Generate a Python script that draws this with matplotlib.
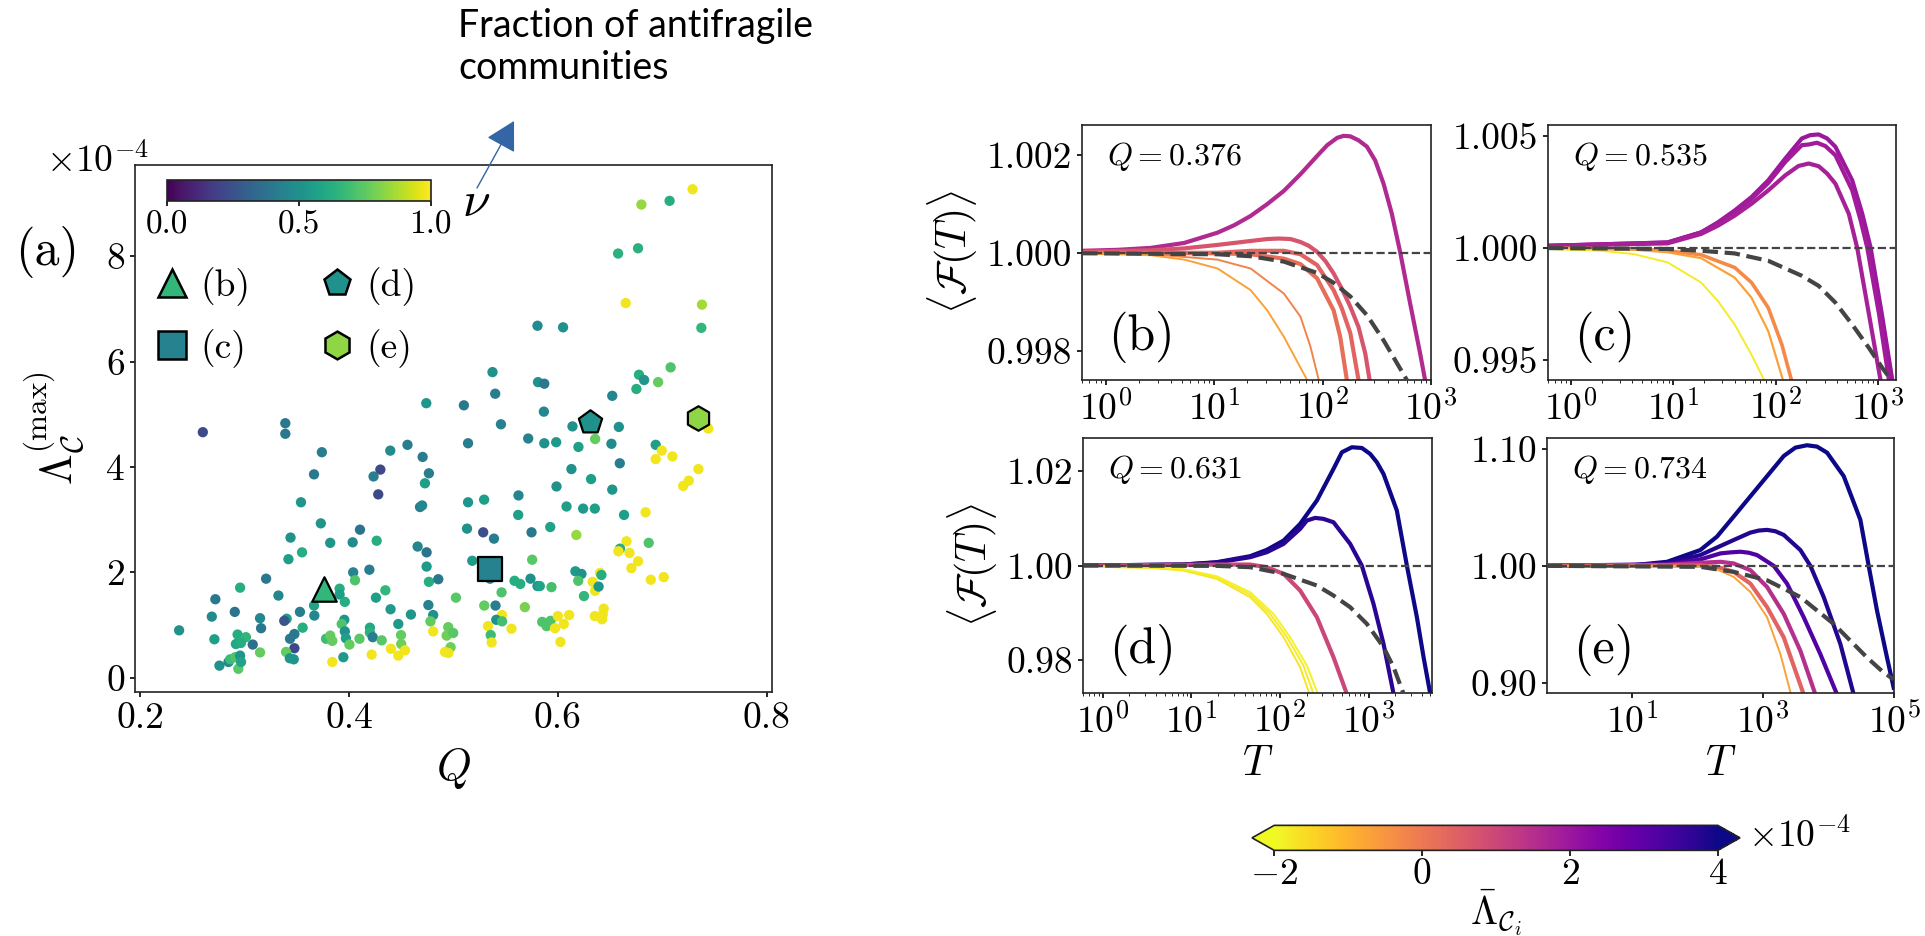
import numpy as np
import matplotlib
matplotlib.use('Agg')
import matplotlib.pyplot as plt
from matplotlib.colors import Normalize
from matplotlib.lines import Line2D
from matplotlib.ticker import FormatStrFormatter, FixedLocator, NullLocator, LogLocator

plt.rcParams['font.family'] = 'serif'
plt.rcParams['font.serif'] = ['cmr10']
plt.rcParams['mathtext.fontset'] = 'cm'
plt.rcParams['axes.formatter.use_mathtext'] = True
plt.rcParams['axes.linewidth'] = 1.2
plt.rcParams['axes.edgecolor'] = '#222222'
plt.rcParams['xtick.labelsize'] = 27
plt.rcParams['ytick.labelsize'] = 27
plt.rcParams['xtick.major.width'] = 1.2
plt.rcParams['ytick.major.width'] = 1.2

# ---- panel (a): modularity Q vs max community Lambda (units 1e-4), colour = nu
Q = [0.260, 0.339, 0.339, 0.374, 0.3665, 0.474, 0.510, 0.514, 0.4395, 0.456,
     0.4705, 0.4765, 0.430, 0.4235, 0.4727, 0.354, 0.428, 0.468, 0.470, 0.514,
     0.513, 0.373, 0.344, 0.4105, 0.382, 0.4035, 0.4265, 0.342, 0.355, 0.4657,
     0.4743, 0.518, 0.3206, 0.404, 0.4195, 0.4057, 0.4743, 0.4765, 0.4855, 0.2957,
     0.272, 0.3324, 0.391, 0.391, 0.396, 0.3665, 0.4258, 0.4348, 0.4398, 0.5024,
     0.476, 0.4806, 0.4593, 0.4472, 0.2686, 0.2906, 0.3148, 0.3158, 0.3403, 0.338,
     0.353, 0.3668, 0.3556, 0.3955, 0.393, 0.396, 0.397, 0.4004, 0.420, 0.420,
     0.4227, 0.410, 0.4313, 0.4498, 0.450, 0.4402, 0.4472, 0.4536, 0.4217, 0.384,
     0.3946, 0.378, 0.382, 0.384, 0.3477, 0.3435, 0.3477, 0.3397, 0.3433, 0.3471,
     0.3078, 0.3148, 0.2711, 0.2933, 0.3013, 0.2917, 0.2965, 0.2759, 0.2846, 0.2862,
     0.2910, 0.2957, 0.294, 0.2966, 0.2373, 0.4806, 0.478, 0.495, 0.4935, 0.4998,
     0.4973, 0.4919, 0.4951,
     0.6577, 0.6768, 0.665, 0.738, 0.7374, 0.5805, 0.605, 0.5374, 0.6777, 0.6826,
     0.6752, 0.696, 0.708, 0.581, 0.587, 0.540, 0.6521, 0.5866, 0.5455, 0.614,
     0.6584, 0.731, 0.744, 0.5716, 0.587, 0.5984, 0.6197, 0.6357, 0.6513, 0.6937,
     0.6995, 0.6937, 0.7097, 0.6593, 0.7346, 0.7254, 0.720, 0.613, 0.6318, 0.5987,
     0.6521,
     0.5623, 0.5294, 0.6083, 0.6242, 0.6354, 0.6634, 0.684, 0.562, 0.5285, 0.5388,
     0.5748, 0.5927, 0.6177, 0.6657, 0.687, 0.6595, 0.658, 0.6686, 0.6768, 0.6704,
     0.689, 0.7014, 0.5754, 0.5585, 0.564, 0.5738, 0.5805, 0.5827, 0.5939, 0.6168,
     0.6226, 0.6404, 0.6417, 0.6195, 0.6333, 0.6356, 0.639, 0.625, 0.5461, 0.5295,
     0.5403, 0.5684, 0.5465, 0.541, 0.5466, 0.5331, 0.5357, 0.5366, 0.5556, 0.585,
     0.5892, 0.5930, 0.5973, 0.600, 0.6057, 0.6108, 0.6025, 0.6354, 0.6439, 0.6423,
     0.643, 0.534, 0.535, 0.680, 0.707, 0.729]
lam_max = [4.66, 4.83, 4.63, 4.28, 3.86, 5.21, 5.17, 4.45, 4.31, 4.42,
           4.19, 3.88, 3.95, 3.82, 3.69, 3.33, 3.48, 3.24, 3.27, 3.33,
           2.83, 2.93, 2.66, 2.81, 2.56, 2.57, 2.60, 2.25, 2.38, 2.49,
           2.38, 2.22, 1.88, 2.00, 2.05, 1.85, 2.11, 1.82, 1.87, 1.71,
           1.49, 1.56, 1.69, 1.58, 1.44, 1.37, 1.52, 1.66, 1.30, 1.52,
           1.38, 1.19, 1.20, 1.02, 1.16, 1.25, 1.13, 0.94, 1.12, 1.08,
           1.25, 1.18, 0.95, 1.10, 1.02, 0.88, 0.75, 0.63, 0.95, 0.86,
           0.77, 0.74, 0.71, 0.81, 0.64, 0.55, 0.42, 0.52, 0.44, 0.30,
           0.39, 0.74, 0.80, 0.70, 0.83, 0.74, 0.56, 0.49, 0.37, 0.35,
           0.63, 0.48, 0.73, 0.82, 0.77, 0.64, 0.66, 0.23, 0.30, 0.35,
           0.39, 0.42, 0.17, 0.30, 0.90, 0.88, 1.07, 0.96, 0.80, 0.85,
           0.58, 0.49, 0.47,
           8.05, 8.15, 7.11, 7.08, 6.64, 6.68, 6.65, 5.80, 5.75, 5.65,
           5.48, 5.61, 5.89, 5.61, 5.58, 5.39, 5.35, 5.05, 4.81, 4.77,
           4.76, 4.80, 4.73, 4.54, 4.45, 4.47, 4.38, 4.53, 4.44, 4.42,
           4.31, 4.15, 4.20, 4.07, 3.96, 3.74, 3.64, 3.96, 3.77, 3.63,
           3.57,
           3.46, 3.38, 3.25, 3.21, 3.21, 3.09, 3.14, 3.09, 2.76, 2.64,
           2.76, 2.86, 2.71, 2.59, 2.56, 2.45, 2.40, 2.37, 2.21, 2.08,
           1.86, 1.91, 2.24, 1.84, 1.78, 1.88, 1.74, 1.74, 1.72, 2.02,
           1.97, 1.99, 1.95, 1.84, 1.82, 1.65, 1.73, 1.55, 1.62, 1.37,
           1.37, 1.34, 1.19, 1.10, 1.07, 0.98, 0.81, 0.67, 0.93, 1.06,
           0.98, 1.08, 0.94, 1.17, 1.02, 1.19, 0.68, 1.17, 1.31, 1.11,
           1.20, 2.20, 1.88, 8.98, 9.05, 9.27]
nu = [0.22, 0.40, 0.40, 0.42, 0.40, 0.52, 0.40, 0.42, 0.48, 0.42,
      0.42, 0.42, 0.22, 0.42, 0.56, 0.52, 0.22, 0.42, 0.46, 0.52,
      0.50, 0.52, 0.50, 0.38, 0.52, 0.48, 0.62, 0.56, 0.62, 0.46,
      0.38, 0.55, 0.40, 0.45, 0.42, 0.72, 0.54, 0.62, 0.40, 0.62,
      0.40, 0.46, 0.62, 0.56, 0.62, 0.58, 0.56, 0.66, 0.54, 0.74,
      0.44, 0.50, 0.52, 0.54, 0.48, 0.38, 0.46, 0.40, 0.56, 0.26,
      0.42, 0.46, 0.62, 0.52, 0.72, 0.50, 0.56, 0.76, 0.60, 0.64,
      0.42, 0.74, 0.74, 0.76, 0.78, 0.98, 0.98, 0.98, 0.98, 0.98,
      0.54, 0.68, 0.76, 0.76, 0.40, 0.40, 0.22, 0.76, 0.52, 0.52,
      0.36, 0.76, 0.56, 0.62, 0.66, 0.60, 0.62, 0.50, 0.46, 0.68,
      0.72, 0.52, 0.74, 0.58, 0.50, 0.98, 0.76, 0.76, 0.78, 0.74,
      0.78, 0.98, 0.98,
      0.64, 0.64, 0.98, 0.86, 0.66, 0.48, 0.50, 0.50, 0.62, 0.52,
      0.62, 0.76, 0.72, 0.50, 0.40, 0.42, 0.46, 0.46, 0.44, 0.50,
      0.50, 0.98, 0.98, 0.44, 0.50, 0.54, 0.56, 0.76, 0.48, 0.56,
      0.98, 0.98, 0.98, 0.42, 0.98, 0.98, 0.98, 0.50, 0.56, 0.50,
      0.52,
      0.46, 0.56, 0.56, 0.54, 0.56, 0.56, 0.98, 0.56, 0.24, 0.42,
      0.40, 0.58, 0.84, 0.98, 0.72, 0.62, 0.98, 0.98, 0.98, 0.98,
      0.98, 0.98, 0.74, 0.62, 0.62, 0.50, 0.52, 0.58, 0.70, 0.54,
      0.50, 0.98, 0.62, 0.72, 0.98, 0.98, 0.52, 0.66, 0.72, 0.76,
      0.42, 0.80, 0.98, 0.50, 0.70, 0.98, 0.68, 0.98, 0.98, 0.72,
      0.72, 0.72, 0.98, 0.98, 0.98, 0.98, 0.98, 0.98, 0.98, 0.98,
      0.98, 0.52, 0.42, 0.84, 0.62, 0.98]

# highlighted networks shown in panels (b)-(e)
sel_tags = ['(b)', '(c)', '(d)', '(e)']
sel_Q = [0.376, 0.535, 0.631, 0.734]
sel_lam = [1.69, 2.06, 4.85, 4.93]
sel_nu = [0.66, 0.44, 0.50, 0.83]
sel_markers = ['^', 's', 'p', 'h']

# ---- panels (b)-(e): <F(T)> curves, colour = mean community Lambda (1e-4)
# (b) Q = 0.376
b1_T = [0.6, 1.28, 2.59, 5.26, 10.7, 15.2, 21.6, 30.7, 43.8, 62.3, 88.7, 110, 136, 156, 180, 214,
        256, 305, 364, 434, 518, 641, 793, 881]
b1_F = [1.00004, 1.00006, 1.00010, 1.00020, 1.00041, 1.00056, 1.00075, 1.00099, 1.00126, 1.00160,
        1.00197, 1.00219, 1.00234, 1.00238, 1.00237, 1.00229, 1.00216, 1.00188, 1.00141, 1.00080,
        1.00002, 0.99897, 0.99795, 0.99741]
b2_T = [0.6, 2.59, 5.26, 10.7, 21.6, 30.7, 39.4, 50.4, 62.3, 74.6, 88.7, 106, 126, 150, 180, 214,
        247, 271]
b2_F = [1.00002, 1.00005, 1.00009, 1.00016, 1.00024, 1.00028, 1.00029, 1.00028, 1.00022, 1.00014,
        1.00002, 0.99983, 0.99958, 0.99927, 0.99890, 0.99849, 0.99795, 0.99741]
b3_T = [0.6, 10.7, 21.6, 43.8, 62.3, 88.7, 126, 150, 180, 214]
b3_F = [1.0, 1.0, 1.00004, 1.00004, 0.99997, 0.99975, 0.99924, 0.99887, 0.99836, 0.99741]
b4_T = [0.6, 10.7, 21.6, 43.8, 62.3, 88.7, 126, 145, 167]
b4_F = [1.0, 0.99999, 0.99997, 0.99988, 0.99977, 0.99948, 0.99883, 0.99829, 0.99741]
b5_T = [0.6, 2.6, 10.7, 21.6, 43.8, 62.3, 77, 91.9]
b5_F = [0.99999, 0.99997, 0.99986, 0.99968, 0.99917, 0.99870, 0.99809, 0.99741]
b6_T = [0.6, 2.6, 5.3, 10.7, 21.6, 30.7, 43.8, 71.8]
b6_F = [0.99999, 0.99995, 0.99986, 0.99968, 0.99924, 0.99883, 0.99829, 0.99741]
bm_T = [0.6, 10.7, 21.6, 43.8, 88.7, 126, 180, 256, 364, 598]
bm_F = [0.99999, 0.99997, 0.99993, 0.99982, 0.99959, 0.99939, 0.99911, 0.99873, 0.99822, 0.99741]
b_lam = [1.6, 0.7, 0.4, 0.2, -0.2, -0.7]

# (c) Q = 0.535
c1_T = [0.6, 8.8, 18.7, 27.3, 39.8, 58.1, 84.7, 124, 180, 218, 263, 318, 383, 559, 701, 847, 1103, 1384]
c1_F = [1.00010, 1.00025, 1.00070, 1.00115, 1.00168, 1.00228, 1.00303, 1.00400, 1.00490, 1.00505,
        1.00508, 1.00490, 1.00453, 1.00303, 1.00153, 1.00000, 0.99688, 0.99403]
c2_T = [0.6, 8.8, 18.7, 27.3, 39.8, 58.1, 84.7, 124, 180, 210, 253, 306, 383, 559, 676, 785, 1023, 1283]
c2_F = [1.00010, 1.00025, 1.00070, 1.00111, 1.00160, 1.00220, 1.00291, 1.00385, 1.00460, 1.00463,
        1.00471, 1.00456, 1.00415, 1.00258, 1.00123, 1.0, 0.99703, 0.99403]
c3_T = [0.6, 8.8, 18.7, 27.3, 39.8, 58.1, 84.7, 124, 167, 210, 263, 318, 383, 518, 626, 815, 1062]
c3_F = [1.00010, 1.00021, 1.00063, 1.00100, 1.00145, 1.00198, 1.00258, 1.00325, 1.00367, 1.00378,
        1.00366, 1.00333, 1.00288, 1.00153, 1.0, 0.99703, 0.99403]
c4_T = [0.6, 4.13, 8.8, 18.7, 39.8, 58.1, 84.7, 115, 144]
c4_F = [1.0, 0.99996, 0.99988, 0.99970, 0.99913, 0.99846, 0.99733, 0.99568, 0.99403]
c5_T = [0.6, 4.13, 8.8, 18.7, 39.8, 58.1, 84.7, 119]
c5_F = [1.0, 0.99993, 0.99981, 0.99955, 0.99868, 0.99778, 0.99628, 0.99403]
c6_T = [0.6, 1.94, 4.13, 8.8, 18.7, 27.3, 39.8, 58.1, 78.6]
c6_F = [0.99996, 0.99988, 0.99973, 0.99936, 0.99846, 0.99763, 0.99658, 0.99523, 0.99403]
cm_T = [0.6, 8.8, 18.7, 39.8, 84.7, 180, 263, 383, 559, 815, 1103, 1384]
cm_F = [1.0, 0.99996, 0.99988, 0.99976, 0.99943, 0.99876, 0.99831, 0.99756, 0.99658, 0.99553, 0.99463, 0.99403]
c_lam = [2.0, 1.9, 1.8, -0.3, -0.7, -1.8]

# (d) Q = 0.631
d1_T = [0.6, 8.14, 19.4, 46.1, 71.1, 110, 169, 261, 402, 500, 648, 840, 1043, 1241, 1475, 2086, 2706,
        3510, 4175, 4966]
d1_F = [1.0, 1.00021, 1.00071, 1.00198, 1.00332, 1.00529, 1.00882, 1.01376, 1.02046, 1.02399,
        1.02505, 1.02490, 1.02363, 1.02187, 1.01940, 1.01164, 1.0, 0.98907, 0.98060, 0.97284]
d2_T = [0.6, 8.14, 19.4, 46.1, 71.1, 110, 169, 201, 250, 310, 402, 620, 839, 1137, 1475, 1915]
d2_F = [1.0, 1.00021, 1.00064, 1.00176, 1.00282, 1.00459, 1.00776, 1.00952, 1.01009, 1.00988,
        1.00917, 1.00459, 1.0, 0.99189, 0.98342, 0.97284]
d3_T = [0.6, 19.4, 46.1, 71.1, 110, 169, 261, 402, 568]
d3_F = [1.0, 1.00021, 1.00021, 0.99965, 0.99824, 0.99471, 0.98907, 0.98060, 0.97284]
d4_T = [0.6, 3.42, 8.14, 19.4, 46.1, 71.1, 110, 169, 215]
d4_F = [0.99979, 0.99951, 0.99894, 0.99718, 0.99330, 0.98977, 0.98483, 0.97848, 0.97284]
d5_T = [0.6, 3.42, 8.14, 19.4, 46.1, 77.5, 120, 184, 239]
d5_F = [0.99979, 0.99958, 0.99908, 0.99753, 0.99386, 0.98977, 0.98483, 0.97884, 0.97284]
d6_T = [0.6, 3.42, 8.14, 19.4, 46.1, 84.5, 130, 201, 268]
d6_F = [0.99986, 0.99965, 0.99922, 0.99774, 0.99436, 0.98977, 0.98483, 0.97884, 0.97284]
dm_T = [0.6, 19.4, 46.1, 110, 261, 402, 620, 957, 1475, 1915, 2482]
dm_F = [1.0, 0.99993, 0.99965, 0.99824, 0.99577, 0.99365, 0.99118, 0.98765, 0.98272, 0.97848, 0.97284]
d_lam = [4.0, 3.7, 1.0, -1.7, -1.8, -1.9]

# (e) Q = 0.734
e1_T = [0.5, 10.6, 34.2, 110, 198, 357, 641, 1151, 2070, 3120, 4695, 6675, 9485, 17060, 30620, 41040,
        54950, 78160, 98870]
e1_F = [1.0, 1.00058, 1.00345, 1.01353, 1.02504, 1.04231, 1.05958, 1.07684, 1.09411, 1.10131,
        1.10332, 1.10217, 1.09699, 1.07684, 1.03943, 1.0, 0.96172, 0.92143, 0.89553]
e2_T = [0.5, 10.6, 34.2, 110, 357, 641, 859, 1151, 1541, 2070, 3715, 5280, 8435, 15170, 24230]
e2_F = [1.0, 1.00029, 1.00259, 1.00921, 1.02216, 1.02849, 1.03022, 1.03080, 1.02964, 1.02648,
        1.01353, 1.0, 0.97324, 0.93294, 0.88977]
e3_T = [0.5, 34.2, 110, 223, 317, 451, 604, 809, 1455, 2325, 4175, 7500, 13490]
e3_F = [1.0, 1.00144, 1.00547, 1.01065, 1.01151, 1.01209, 1.01122, 1.00921, 1.0, 0.98475, 0.95597,
        0.92431, 0.88977]
e4_T = [0.5, 34.2, 110, 223, 357, 641, 1151, 2070, 3715, 6300]
e4_F = [1.0, 1.00086, 1.00259, 1.00345, 1.00202, 0.99626, 0.98187, 0.95885, 0.92719, 0.88977]
e5_T = [0.5, 34.2, 110, 198, 357, 641, 1151, 2070, 4175]
e5_F = [1.0, 1.00029, 1.00029, 0.99914, 0.99482, 0.98475, 0.96460, 0.93870, 0.88977]
e6_T = [0.5, 34.2, 110, 198, 357, 641, 1151, 1841, 2675]
e6_F = [1.0, 1.0, 0.99914, 0.99683, 0.99050, 0.97755, 0.95597, 0.92431, 0.88977]
em_T = [0.5, 110, 357, 1151, 2070, 3715, 6675, 12000, 21550, 38700, 69500, 98870]
em_F = [1.0, 0.99914, 0.99482, 0.98763, 0.98043, 0.97324, 0.96172, 0.95021, 0.93582, 0.92143, 0.90848, 0.90272]
e_lam = [4.0, 3.8, 3.2, 1.5, 0.4, -0.7]

cb_ticks = [-2, 0, 2, 4]

fig = plt.figure(figsize=(19.25, 9.36), dpi=100)

# ---------------- panel (a)
vir = plt.get_cmap('viridis')
ax = fig.add_axes([0.0701, 0.2607, 0.3309, 0.5630])
sc = ax.scatter(Q, lam_max, c=nu, cmap=vir, vmin=0, vmax=1, s=55, edgecolors='none', zorder=2)
for q, l, n, m in zip(sel_Q, sel_lam, sel_nu, sel_markers):
    ax.scatter([q], [l], c=[n], cmap=vir, vmin=0, vmax=1, marker=m, s=310,
               edgecolors='k', linewidths=1.6, zorder=3)
ax.set_xlim(0.195, 0.805)
ax.set_ylim(-0.27, 9.73)
ax.set_xticks([0.2, 0.4, 0.6, 0.8])
ax.set_yticks([0, 2, 4, 6, 8])
ax.xaxis.set_major_formatter(FormatStrFormatter('%.1f'))
ax.yaxis.set_major_formatter(FormatStrFormatter('%d'))
ax.set_xlabel(r'$Q$', fontsize=32, labelpad=8)
ax.set_ylabel(r'$\Lambda^{(\mathrm{max})}_{\mathcal{C}}$', fontsize=32, labelpad=14)
ax.text(-0.14, 0.987, r'$\times10^{-4}$', transform=ax.transAxes, fontsize=27, va='baseline')
ax.text(-0.188, 0.835, '(a)', transform=ax.transAxes, fontsize=36, va='center')

cax_a = ax.inset_axes([0.050, 0.932, 0.414, 0.040])
cba = fig.colorbar(sc, cax=cax_a, orientation='horizontal', ticks=[0, 0.5, 1])
cba.ax.xaxis.set_major_formatter(FormatStrFormatter('%.1f'))
cba.ax.tick_params(labelsize=24)
ax.text(0.513, 0.928, r'$\nu$', transform=ax.transAxes, fontsize=36, va='center')

handles = [Line2D([], [], ls='none', marker=m, markersize=20, markerfacecolor=vir(n),
                  markeredgecolor='k', markeredgewidth=1.8)
           for m, n in zip(sel_markers, sel_nu)]
ax.legend(handles, sel_tags, ncol=2, frameon=False, fontsize=27, loc='upper left',
          bbox_to_anchor=(0.028, 0.806), borderaxespad=0, borderpad=0,
          handlelength=1.0, handletextpad=0.26, columnspacing=1.83, labelspacing=0.62)

ax.annotate('', xy=(514, 936 - 121), xytext=(477, 936 - 188), xycoords='figure pixels',
            textcoords='figure pixels',
            arrowprops=dict(arrowstyle='-|>,head_length=0.45,head_width=0.25',
                            mutation_scale=40, color='#3465a4', lw=1.0,
                            shrinkA=0, shrinkB=0))
fig.text(458 / 1925, 1 - 8 / 936, 'Fraction of antifragile\ncommunities', family='Lato',
         fontsize=27, va='top', ha='left', linespacing=1.22)

# ---------------- panels (b)-(e)
norm_lam = Normalize(-2, 4)
pl = plt.get_cmap('plasma_r')

panels = [
    ([0.5621, 0.5940, 0.1813, 0.2724], [(b1_T, b1_F), (b2_T, b2_F), (b3_T, b3_F), (b4_T, b4_F), (b5_T, b5_F), (b6_T, b6_F)],
     b_lam, [3.0, 3.0, 3.0, 3.0, 1.4, 1.4], (bm_T, bm_F), (0.6, 1000), (0.99741, 1.0026),
     [0.998, 1.0, 1.002], '%.3f', '(b)'),
    ([0.8042, 0.5940, 0.1808, 0.2724], [(c1_T, c1_F), (c2_T, c2_F), (c3_T, c3_F), (c4_T, c4_F), (c5_T, c5_F), (c6_T, c6_F)],
     c_lam, [3.0, 3.0, 3.0, 2.6, 1.6, 1.4], (cm_T, cm_F), (0.6, 1500), (0.9941, 1.0055),
     [0.995, 1.0, 1.005], '%.3f', '(c)'),
    ([0.5626, 0.2596, 0.1813, 0.2724], [(d1_T, d1_F), (d2_T, d2_F), (d3_T, d3_F), (d4_T, d4_F), (d5_T, d5_F), (d6_T, d6_F)],
     d_lam, [3.0, 3.0, 3.0, 1.4, 1.4, 1.4], (dm_T, dm_F), (0.6, 5200), (0.973, 1.027),
     [0.98, 1.0, 1.02], '%.2f', '(d)'),
    ([0.8036, 0.2596, 0.1803, 0.2724], [(e1_T, e1_F), (e2_T, e2_F), (e3_T, e3_F), (e4_T, e4_F), (e5_T, e5_F), (e6_T, e6_F)],
     e_lam, [3.0, 3.0, 3.0, 3.0, 3.0, 1.4], (em_T, em_F), (0.5, 1e5), (0.891, 1.1095),
     [0.9, 1.0, 1.1], '%.2f', '(e)'),
]

for i, (rect, curves, lams, widths, mean, xl, yl, yt, yfmt, tag) in enumerate(panels):
    axp = fig.add_axes(rect)
    for (T, F), v, w in zip(curves, lams, widths):
        axp.plot(T, F, color=pl(norm_lam(v)), lw=w, zorder=2)
    axp.axhline(1.0, color='#444444', lw=1.6, ls='--', zorder=3)
    axp.plot(mean[0], mean[1], color='#444444', lw=3.0, ls='--', zorder=4)
    axp.set_xscale('log')
    axp.set_xlim(*xl)
    axp.set_ylim(*yl)
    axp.set_yticks(yt)
    axp.yaxis.set_major_formatter(FormatStrFormatter(yfmt))
    if tag == '(e)':
        axp.xaxis.set_major_locator(FixedLocator([1e1, 1e3, 1e5]))
        axp.xaxis.set_minor_locator(NullLocator())
    else:
        axp.xaxis.set_major_locator(LogLocator(base=10, numticks=15))
        axp.xaxis.set_minor_locator(LogLocator(base=10, subs=np.arange(2, 10), numticks=15))
    axp.text(0.072, 0.875, r'$Q = %.3f$' % sel_Q[i], transform=axp.transAxes,
             fontsize=23, va='center')
    axp.text(0.075, 0.17, tag, transform=axp.transAxes, fontsize=36, va='center')
    if i in (0, 2):
        axp.set_ylabel(r'$\langle\mathcal{F}(T)\rangle$', fontsize=30, labelpad=5)
    if i in (2, 3):
        axp.set_xlabel(r'$T$', fontsize=30, labelpad=4)

# ---------------- colour bar for community Lambda
cax = fig.add_axes([0.6504, 0.0915, 0.2535, 0.0267])
sm = plt.cm.ScalarMappable(norm=norm_lam, cmap=pl)
cb = fig.colorbar(sm, cax=cax, orientation='horizontal', extend='both', ticks=cb_ticks)
cb.ax.tick_params(labelsize=27, pad=1, length=4)
cb.set_label(r'$\bar{\Lambda}_{\mathcal{C}_i}$', fontsize=28, labelpad=-2)
fig.text(1748 / 1925, 1 - 836 / 936, r'$\times10^{-4}$', fontsize=27, va='center', ha='left')

fig.savefig('out.png', dpi=100)
